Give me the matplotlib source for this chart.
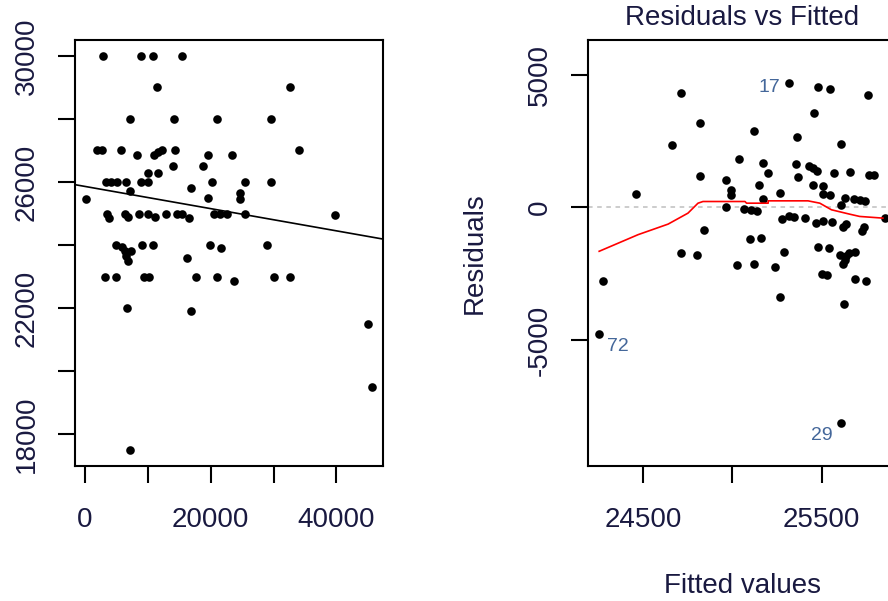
import numpy as np
import matplotlib.pyplot as plt

plt.rcParams['font.family'] = ['Liberation Sans', 'DejaVu Sans']

# observations (predictor, response)
x_vals = [2870, 8926, 10839, 11429, 32629, 7221, 14234, 20993, 29648, 1993,
          2790, 5738, 8209, 11046, 11588, 12322, 15462, 14346, 19558, 23432,
          34032, 13979, 18730, 9994, 11588, 3347, 4144, 5101, 7125, 6535,
          8926, 10090, 20164, 25393, 29648, 16896, 7093, 19558, 24596, 24596,
          239, 3555, 3873, 6376, 6775, 8528, 9994, 11110, 12959, 14665,
          15462, 16626, 20563, 21519, 22555, 25393, 39739, 4941, 5898, 6376,
          7332, 6535, 6854, 9006, 10839, 16259, 19813, 21567, 28883, 3188,
          4941, 45588, 9325, 10122, 17693, 20930, 23751, 30079, 32597, 6695,
          16896, 44951]
y_vals = [30000, 30000, 30000, 29000, 29000, 28000, 28000, 28000, 28000, 27000,
          27000, 27000, 26850, 26850, 26950, 27000, 30000, 27000, 26850, 26850,
          27000, 26500, 26500, 26300, 26300, 26000, 26000, 26000, 17500, 26000,
          26000, 26000, 26000, 26000, 26000, 25800, 25700, 25500, 25650, 25450,
          25450, 25000, 24850, 25000, 24900, 25000, 25000, 24900, 25000, 25000,
          25000, 24850, 25000, 25000, 25000, 25000, 24950, 24000, 23950, 23800,
          23800, 23650, 23500, 24000, 24000, 23600, 24000, 23900, 24000, 23000,
          23000, 19500, 23000, 23000, 23000, 23000, 22850, 23000, 23000, 22000,
          21900, 21500]

# fitted line y = intercept + slope * x
line_intercept = 25860
line_slope = -0.0352

# lowess smoother through residuals vs fitted
smooth_fit = [24254, 24472, 24640, 24751, 24807, 24835, 25070, 25079, 25200,
              25200, 25423, 25489, 25554, 25656, 25712, 25842]
smooth_res = [-1648, -1022, -625, -213, 161, 225, 225, 162, 162,
              250, 250, 162, -86, -251, -337, -400]

x_ticks = [0, 10000, 20000, 30000, 40000]
x_ticklabels = ['0', '', '20000', '', '40000']
y_ticks = [18000, 20000, 22000, 24000, 26000, 28000, 30000]
y_ticklabels = ['18000', '', '22000', '', '26000', '', '30000']
fit_ticks = [24500, 25000, 25500]
fit_ticklabels = ['24500', '', '25500']
res_ticks = [-5000, 0, 5000]
res_ticklabels = ['-5000', '0', '5000']

TXT = '#191940'
ID_COL = '#44679a'

x = np.array(x_vals, dtype=float)
y = np.array(y_vals, dtype=float)
fitted = line_intercept + line_slope * x
resid = y - fitted


def rpad(lo, hi, f=0.04):
    d = hi - lo
    return lo - f * d, hi + f * d


W, H = 888, 601
fig = plt.figure(figsize=(W / 100, H / 100), dpi=100)


def px_axes(left, top, width, height):
    return fig.add_axes([left / W, 1 - (top + height) / H, width / W, height / H])


def style(ax):
    for s in ax.spines.values():
        s.set_linewidth(1.5)
    ax.tick_params(direction='out', length=12.5, width=1.5, labelsize=20,
                   labelcolor=TXT)
    ax.tick_params(axis='x', pad=17)
    ax.tick_params(axis='y', pad=13, labelrotation=90)
    for lbl in ax.get_yticklabels():
        lbl.set_va('center')


ax1 = px_axes(75, 40, 308, 426)
ax2 = px_axes(588, 40, 308, 426)

# left: raw data with fitted line
ax1.plot(x, y, 'o', color='black', ms=6.2, mew=0)
ax1.set_xlim(rpad(x.min(), x.max()))
ax1.set_ylim(rpad(y.min(), y.max()))
xs = np.array(ax1.get_xlim())
ax1.plot(xs, line_intercept + line_slope * xs, color='black', lw=1.2)
ax1.set_xticks(x_ticks, x_ticklabels)
ax1.set_yticks(y_ticks, y_ticklabels)
style(ax1)

# right: residuals vs fitted
ax2.axhline(0, color='#bebebe', lw=1.1, ls=(0, (3, 3)))
ax2.plot(fitted, resid, 'o', color='black', ms=6.2, mew=0)
ax2.plot(smooth_fit, smooth_res, color='red', lw=1.2)
ax2.set_xlim(rpad(fitted.min(), fitted.max()))
ylo, yhi = rpad(resid.min(), resid.max(), 0.08)
ax2.set_ylim(rpad(ylo, yhi))
ax2.set_xticks(fit_ticks, fit_ticklabels)
ax2.set_yticks(res_ticks, res_ticklabels)
style(ax2)
ax2.set_title('Residuals vs Fitted', fontsize=20, color=TXT, pad=11)
ax2.set_xlabel('Fitted values', fontsize=20, color=TXT)
ax2.set_ylabel('Residuals', fontsize=20, color=TXT)
ax2.xaxis.set_label_coords(0.5, -0.252)
ax2.yaxis.set_label_coords(-0.325, 0.5)

# label the three largest residuals
xmid = np.mean(ax2.get_xlim())
for i in np.argsort(-np.abs(resid))[:3]:
    dy = -9 if resid[i] < 0 else -3.5
    if fitted[i] < xmid:
        off, ha = (5.5, dy), 'left'
    else:
        off, ha = (-6, dy), 'right'
    ax2.annotate(str(i + 1), (fitted[i], resid[i]), xytext=off,
                 textcoords='offset points', ha=ha, va='center',
                 fontsize=14, color=ID_COL)

fig.savefig('out.png', dpi=100)
